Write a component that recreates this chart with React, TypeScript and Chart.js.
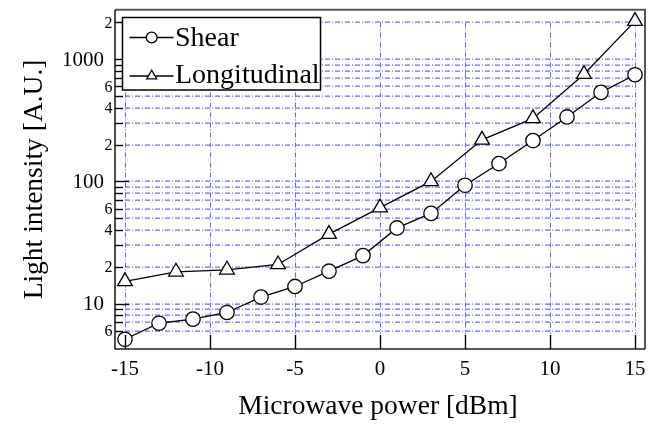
import React, { useEffect, useRef } from "react";
import { Chart, registerables } from "chart.js";

Chart.register(...registerables);

// ---- data ----
const seriesNames = ["Shear", "Longitudinal"];
const shearPower = [-15, -13, -11, -9, -7, -5, -3, -1, 1, 3, 5, 7, 9, 11, 13, 15];
const shearIntensity = [5.1, 6.9, 7.45, 8.45, 11.3, 13.8, 18.4, 24.7, 41.6, 54.7, 93, 140, 216, 337, 536, 747];
const longPower = [-15, -12, -9, -6, -3, 0, 3, 6, 9, 12, 15];
const longIntensity = [15.2, 18.2, 18.9, 20.9, 37, 61, 100, 219, 328, 755, 2050];

const xTickValues = [-15, -10, -5, 0, 5, 10, 15];
const yGridValues = [6, 7, 8, 9, 10, 20, 30, 40, 50, 60, 70, 80, 90, 100, 200, 300, 400, 500, 600, 700, 800, 900, 1000, 2000];
const yDecadeValues = [10, 100, 1000];
const yDecadeLabels = ["10", "100", "1000"];
const yMinorLabelValues = [6, 20, 40, 60, 200, 400, 600, 2000];
const yMinorLabels = ["6", "2", "4", "6", "2", "4", "6", "2"];
const xTitle = "Microwave power [dBm]";
const yTitle = "Light intensity [A.U.]";

const FONT = '"Liberation Serif", "Times New Roman", serif';

function drawMarker(ctx: CanvasRenderingContext2D, style: string, cx: number, cy: number, r: number) {
  ctx.beginPath();
  if (style === "triangle") {
    let rad = 0;
    ctx.moveTo(cx + Math.sin(rad) * r, cy - Math.cos(rad) * r);
    rad += (2 * Math.PI) / 3;
    ctx.lineTo(cx + Math.sin(rad) * r, cy - Math.cos(rad) * r);
    rad += (2 * Math.PI) / 3;
    ctx.lineTo(cx + Math.sin(rad) * r, cy - Math.cos(rad) * r);
    ctx.closePath();
  } else {
    ctx.arc(cx, cy, r, 0, Math.PI * 2);
  }
  ctx.fill();
  ctx.stroke();
}

const decorPlugin = {
  id: "decor",
  beforeDatasetsDraw(chart: any) {
    const { ctx, chartArea: a } = chart;
    const xs = chart.scales.x;
    const ys = chart.scales.y;
    ctx.save();
    ctx.lineCap = "butt";
    ctx.setLineDash([5, 2, 1, 2]);
    const x0 = xs.getPixelForValue(xTickValues[0]);
    const x1 = xs.getPixelForValue(xTickValues[xTickValues.length - 1]);
    const yTop = ys.getPixelForValue(yGridValues[yGridValues.length - 1]);
    const yBot = a.bottom - 15;
    ctx.strokeStyle = "#6a6aff";
    ctx.lineWidth = 1.25;
    for (const v of yGridValues) {
      const py = Math.round(ys.getPixelForValue(v));
      ctx.beginPath();
      ctx.moveTo(x0, py);
      ctx.lineTo(x1, py);
      ctx.stroke();
    }
    ctx.strokeStyle = "#6464ff";
    ctx.lineWidth = 1;
    for (const v of xTickValues) {
      const px = Math.round(xs.getPixelForValue(v)) + 0.5;
      ctx.beginPath();
      ctx.moveTo(px, yTop);
      ctx.lineTo(px, yBot);
      ctx.stroke();
    }
    ctx.restore();
  },
  afterDatasetsDraw(chart: any) {
    const { ctx, chartArea: a } = chart;
    const xs = chart.scales.x;
    const ys = chart.scales.y;
    ctx.save();
    ctx.setLineDash([]);

    // frame
    ctx.strokeStyle = "#555";
    ctx.lineWidth = 2;
    ctx.beginPath();
    ctx.moveTo(a.left, a.top);
    ctx.lineTo(a.right, a.top);
    ctx.lineTo(a.right, a.bottom);
    ctx.stroke();
    ctx.strokeStyle = "#222";
    ctx.lineWidth = 1.6;
    ctx.beginPath();
    ctx.moveTo(a.left, a.top);
    ctx.lineTo(a.left, a.bottom);
    ctx.lineTo(a.right, a.bottom);
    ctx.stroke();

    // ticks
    ctx.strokeStyle = "#000";
    ctx.lineWidth = 1.4;
    for (const v of xTickValues) {
      const px = Math.round(xs.getPixelForValue(v)) + 0.5;
      ctx.beginPath();
      ctx.moveTo(px, a.bottom);
      ctx.lineTo(px, a.bottom - 14);
      ctx.stroke();
    }
    for (const v of yGridValues) {
      const py = Math.round(ys.getPixelForValue(v)) + 0.5;
      const len = yDecadeValues.includes(v) ? 14 : 8;
      ctx.beginPath();
      ctx.moveTo(a.left, py);
      ctx.lineTo(a.left + len, py);
      ctx.stroke();
    }

    // y tick labels
    ctx.fillStyle = "#000";
    ctx.textAlign = "right";
    ctx.textBaseline = "middle";
    ctx.font = `21px ${FONT}`;
    yDecadeValues.forEach((v, i) => {
      ctx.fillText(yDecadeLabels[i], a.left - 11, ys.getPixelForValue(v) + 1);
    });
    ctx.font = `16px ${FONT}`;
    yMinorLabelValues.forEach((v, i) => {
      ctx.fillText(yMinorLabels[i], a.left - 2.5, ys.getPixelForValue(v) + 1);
    });

    // axis titles
    ctx.font = `27.5px ${FONT}`;
    ctx.textAlign = "center";
    ctx.textBaseline = "alphabetic";
    ctx.fillText(xTitle, (a.left + a.right) / 2 - 2, 414);
    ctx.save();
    ctx.translate(42, (a.top + a.bottom) / 2);
    ctx.rotate(-Math.PI / 2);
    ctx.fillText(yTitle, 0, 0);
    ctx.restore();

    // legend
    const bx = 122.5, by = 17.5, bw = 198, bh = 72.5;
    ctx.fillStyle = "#fff";
    ctx.fillRect(bx, by, bw, bh);
    ctx.strokeStyle = "#000";
    ctx.lineWidth = 1.5;
    ctx.strokeRect(bx, by, bw, bh);
    const rows = [37.5, 76];
    const sizes = [5.4, 5.8];
    chart.data.datasets.forEach((ds: any, i: number) => {
      const cy = rows[i];
      ctx.strokeStyle = ds.borderColor;
      ctx.lineWidth = 1.3;
      ctx.beginPath();
      ctx.moveTo(129.5, cy);
      ctx.lineTo(173.5, cy);
      ctx.stroke();
      ctx.fillStyle = "#fff";
      drawMarker(ctx, ds.pointStyle, 151.7, cy, sizes[i]);
      ctx.fillStyle = "#000";
      ctx.font = `28px ${FONT}`;
      ctx.textAlign = "left";
      ctx.textBaseline = "alphabetic";
      ctx.fillText(ds.label, 175, cy + (i === 0 ? 8.2 : 7.3));
    });
    ctx.restore();
  },
};

export default function App() {
  const ref = useRef<HTMLCanvasElement | null>(null);
  useEffect(() => {
    if (!ref.current) return;
    const chart = new Chart(ref.current, {
      type: "line",
      data: {
        datasets: [
          {
            label: seriesNames[0],
            data: shearPower.map((p, i) => ({ x: p, y: shearIntensity[i] })),
            borderColor: "#000",
            borderWidth: 1.3,
            pointStyle: "circle",
            pointRadius: 7.2,
            pointBackgroundColor: "#fff",
            pointBorderColor: "#000",
            pointBorderWidth: 1.3,
            tension: 0,
            clip: false,
          },
          {
            label: seriesNames[1],
            data: longPower.map((p, i) => ({ x: p, y: longIntensity[i] })),
            borderColor: "#000",
            borderWidth: 1.3,
            pointStyle: "triangle",
            pointRadius: 8.5,
            pointBackgroundColor: "#fff",
            pointBorderColor: "#000",
            pointBorderWidth: 1.3,
            tension: 0,
            clip: false,
          },
        ],
      } as any,
      options: {
        animation: false,
        responsive: false,
        events: [],
        layout: { padding: { left: 115, top: 8, right: 15, bottom: 0 } },
        plugins: { legend: { display: false }, tooltip: { enabled: false } },
        scales: {
          x: {
            type: "linear",
            min: -15.588,
            max: 15.588,
            grid: { display: false, drawTicks: false },
            border: { display: false },
            ticks: {
              color: "#000",
              font: { family: FONT, size: 21 },
              padding: 8,
              includeBounds: false,
            },
            afterBuildTicks: (scale: any) => {
              scale.ticks = xTickValues.map((v) => ({ value: v }));
            },
            afterFit: (scale: any) => {
              scale.height = 76;
            },
          },
          y: {
            type: "logarithmic",
            display: false,
            min: 4.246,
            max: 2540,
          },
        },
      } as any,
      plugins: [decorPlugin],
    });
    return () => chart.destroy();
  }, []);
  return (
    <div style={{ position: "absolute", left: 0, top: 0, width: 660, height: 425 }}>
      <canvas ref={ref} width={660} height={425} style={{ display: "block" }} />
    </div>
  );
}
